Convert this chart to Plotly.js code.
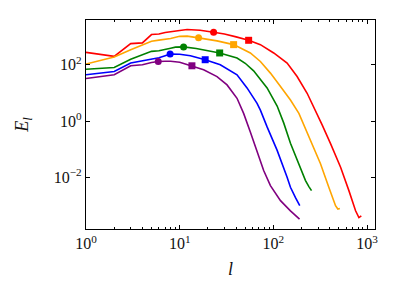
<!DOCTYPE html>
<html>
<head>
<meta charset="utf-8">
<script src="https://cdn.plot.ly/plotly-3.0.1.min.js"></script>
<style>html,body{margin:0;padding:0;background:#fff;}#chart{width:399px;height:299px;}</style>
</head>
<body>
<div id="chart"></div>
<script>
// ---- data ----
const seriesColors = ['red', 'orange', 'green', 'blue', 'purple'];

const lRed = [1,2,3,4,5,6,7,8,9,10,12,16.5,23,30,40,54.4,72.6,100.7,140,179,229,281,332,407,521,639,753,817,867];
const eRed = [275,198,562,596,1180,1227,1390,1510,1570,1637,1778,1680,1426,1227,975,738,518,262,115,38.2,9.75,2.47,0.72,0.16,0.0233,0.00343,0.00066,0.00038,0.00044];

const lOrange = [1,2,3,4,5,6,7,8,10,12,15.9,25,37.6,44.4,56.7,72.6,92.9,119,152,187,211,249,318,390,460,487,512];
const eOrange = [106,188,343,518,679,750,814,849,1020,1040,900,702,518,394,262,131,50.6,16.8,5.62,1.88,0.72,0.21,0.0309,0.00451,0.001,0.00076,0.0008];

const lGreen = [1,2,3,4,5,6,7,8,9,10,11,15,26.7,40.9,50,61.5,72.6,85.6,109.6,129,152,194,220,239,255];
const eGreen = [69,80,157,227,299,316,343,388,422,435,430,380,262,173,113,61,31.6,15.1,3.43,0.85,0.164,0.021,0.0078,0.00477,0.00343];

const lBlue = [1,2,3,4,5,6,7,7.9,10,13,18.7,27.1,40.9,52.3,66.9,72.6,85.6,109.6,140,152,172,191];
const eBlue = [44,57.7,115,139,160,178,210,241,237,210,151,100,44,15.1,4.28,2.47,0.625,0.092,0.0103,0.0045,0.00193,0.001];

const lPurple = [1,2,3,4,5,5.9,7,8,10,13.5,18,25,32,40.9,48.1,56.7,66.9,78.7,92.9,119,152,190];
const ePurple = [32.4,44,92,100,121,131,133,133,123,92,66.3,38.2,19.3,6.47,1.88,0.415,0.085,0.0178,0.00518,0.00151,0.00066,0.000335];

const circleL = [23, 15.9, 11, 7.9, 5.9];
const circleE = [1426, 900, 430, 241, 131];
const squareL = [54.4, 37.6, 26.7, 18.7, 13.5];
const squareE = [738, 518, 262, 151, 92];

const xTickVals = [1, 10, 100, 1000];
const xTickText = ['10<sup>0</sup>', '10<sup>1</sup>', '10<sup>2</sup>', '10<sup>3</sup>'];
const yTickVals = [0.01, 1, 100];
const yTickText = ['10<sup>\u22122</sup>', '10<sup>0</sup>', '10<sup>2</sup>'];

// ---- build traces ----
const lines = [[lRed,eRed],[lOrange,eOrange],[lGreen,eGreen],[lBlue,eBlue],[lPurple,ePurple]];
const traces = [];
lines.forEach((s, i) => {
  traces.push({x: s[0], y: s[1], mode: 'lines', type: 'scatter',
    line: {color: seriesColors[i], width: 1.6}, hoverinfo: 'skip', showlegend: false});
});
seriesColors.forEach((c, i) => {
  traces.push({x: [circleL[i], squareL[i]], y: [circleE[i], squareE[i]], mode: 'markers', type: 'scatter',
    marker: {color: c, size: 7, symbol: ['circle', 'square'], line: {width: 0}}, showlegend: false});
});

const minorX = [];
for (let d = 1; d <= 1000; d *= 10) for (let k = 2; k <= 9; k++) minorX.push(k * d);

const fam = '"Liberation Serif", "DejaVu Serif", serif';
const layout = {
  width: 399, height: 299,
  margin: {l: 86, r: 24.3, t: 20.3, b: 70.3},
  paper_bgcolor: '#fff', plot_bgcolor: '#fff',
  font: {family: fam, size: 16, color: '#111'},
  showlegend: false,
  xaxis: {
    type: 'log', range: [0, 3.084], tickvals: xTickVals, ticktext: xTickText,
    tickfont: {family: fam, size: 16, color: '#111'},
    ticks: 'inside', ticklen: 4, tickwidth: 1, tickcolor: '#000',
    showline: true, linecolor: '#000', linewidth: 1.2, mirror: 'ticks',
    showgrid: false, zeroline: false,
    minor: {tickvals: minorX, ticks: 'inside', ticklen: 2, tickwidth: 1, tickcolor: '#000', showgrid: false},
    title: {text: '<i>l</i>', font: {family: fam, size: 18, color: '#111'}, standoff: 11}
  },
  yaxis: {
    type: 'log', range: [-3.826, 3.588], tickvals: yTickVals, ticktext: yTickText,
    tickfont: {family: fam, size: 16, color: '#111'},
    ticks: 'inside', ticklen: 4, tickwidth: 1, tickcolor: '#000',
    showline: true, linecolor: '#000', linewidth: 1.2, mirror: 'ticks',
    showgrid: false, zeroline: false,
    title: {text: '<i>E</i><sub><i>l</i></sub>', font: {family: fam, size: 18, color: '#111'}, standoff: 20}
  }
};

Plotly.newPlot('chart', traces, layout, {staticPlot: true, displayModeBar: false});
</script>
</body>
</html>
